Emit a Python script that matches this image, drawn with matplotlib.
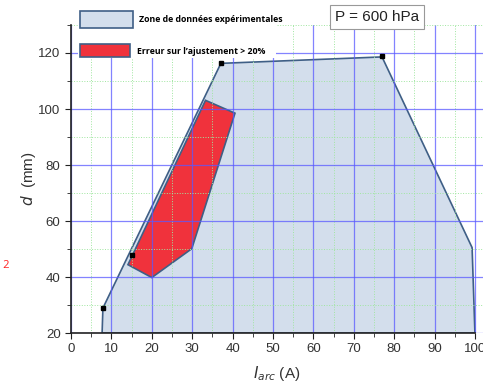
import matplotlib.pyplot as plt
from matplotlib.patches import Polygon, Rectangle

# experimental zone (I_arc in A, d in mm)
zone_i = [7.7, 7.9, 37.1, 77.0, 99.3, 100.0]
zone_d = [20.0, 28.9, 116.3, 118.6, 50.5, 20.0]
# region where fit error > 20%
err_i = [14.1, 20.0, 29.9, 40.6, 33.3]
err_d = [44.4, 39.8, 50.1, 98.5, 103.1]
# measured corner points
pts_i = [7.9, 15.1, 37.1, 77.0]
pts_d = [28.9, 47.8, 116.3, 118.9]

fig = plt.figure(figsize=(4.83, 3.85), dpi=100)
ax = fig.add_axes([71/483, 52/385, 412/483, 308/385])

ax.add_patch(Polygon(list(zip(zone_i, zone_d)), closed=True, facecolor='#d3deec',
                     edgecolor='#3f5f86', lw=1.2, zorder=1))
ax.add_patch(Polygon(list(zip(err_i, err_d)), closed=True, facecolor='#f0323c',
                     edgecolor='#3f5f86', lw=1.2, zorder=2))
ax.plot(pts_i, pts_d, 's', color='black', ms=3.2, zorder=5)

ax.set_xlim(0, 102)
ax.set_ylim(20, 130)
ax.set_xticks(range(0, 101, 10))
ax.set_xticks(range(5, 100, 10), minor=True)
ax.set_yticks(range(20, 121, 20))
ax.set_yticks(range(30, 131, 20), minor=True)
ax.grid(which='major', color='#5a5aff', lw=0.9, alpha=0.75, zorder=3)
ax.grid(which='minor', color='#a0e6a0', lw=0.7, ls=':', zorder=3)
ax.set_axisbelow(False)
for s in ['top', 'right']:
    ax.spines[s].set_visible(False)
ax.spines['bottom'].set_bounds(0, 100)
for s in ['left', 'bottom']:
    ax.spines[s].set_color('#222222')
    ax.spines[s].set_linewidth(1.2)
    ax.spines[s].set_zorder(6)
ax.tick_params(which='both', direction='out', colors='#222222', labelsize=9.5,
               labelcolor='#333333')
ax.tick_params(which='major', length=4)
ax.tick_params(which='minor', length=3)
for t in ax.get_xticklabels() + ax.get_yticklabels():
    t.set_family('Liberation Sans')

ax.set_xlabel(r'$I_{arc}$ (A)', fontsize=11, family='Liberation Sans', color='#333333',
              labelpad=6)
ax.set_ylabel(r'$d$  (mm)', fontsize=11, family='Liberation Sans', color='#333333',
              labelpad=0)

# legend drawn by hand, white background over the grid
fig.patches.append(Rectangle((78/483, 1 - 58/385), 198/483, 56/385, transform=fig.transFigure,
                             facecolor='white', edgecolor='none', zorder=7))
fig.patches.append(Rectangle((80/483, 1 - 28/385), 53/483, 17/385, transform=fig.transFigure,
                             facecolor='#d3deec', edgecolor='#3f5f86', lw=1.2, zorder=8))
fig.patches.append(Rectangle((80/483, 1 - 57/385), 50/483, 13/385, transform=fig.transFigure,
                             facecolor='#f0323c', edgecolor='#3f5f86', lw=1.2, zorder=8))
fig.text(139/483, 1 - 19/385, 'Zone de données expérimentales', fontsize=6.3,
         fontweight='bold', family='Open Sans', va='center', zorder=9)
fig.text(137/483, 1 - 52/385, 'Erreur sur l\u2019ajustement > 20%', fontsize=6.3,
         fontweight='bold', family='Open Sans', va='center', zorder=9)

fig.text(377/483, 1 - 17/385, 'P = 600 hPa', fontsize=11, family='Liberation Sans',
         ha='center', va='center', color='#222222',
         bbox=dict(boxstyle='square,pad=0.35', fc='white', ec='#999999', lw=0.8))

fig.text(10/483, 1 - 265/385, 'e 2', fontsize=8, color='#ff2020', ha='right', va='center',
         family='Open Sans')

fig.savefig('out.png', dpi=100)
